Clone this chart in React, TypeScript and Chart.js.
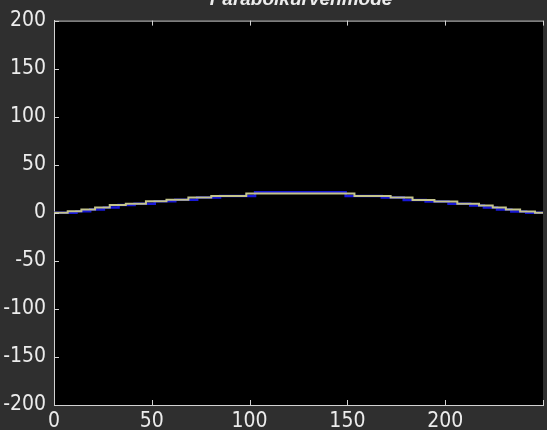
import { useEffect, useRef } from 'react';
import { Chart, registerables } from 'chart.js';

Chart.register(...registerables);

const TITLE = 'Parabolkurvenmode';
const X_MIN = 0;
const X_MAX = 250;
const X_STEP = 50;
const Y_MIN = -200;
const Y_MAX = 200;
const Y_STEP = 50;

// Yellow stepped curve (value holds from x until next x)
const yellowX = [0, 7, 14, 21, 28.5, 36.7, 47, 57.5, 68.7, 80.4, 98.3, 153.6, 172.1, 183.3, 194.5, 206.2, 217.3, 224.3, 231, 238.3, 245.9, 250];
const yellowY = [0, 1.5, 3.5, 5.5, 8, 9.5, 12, 13.5, 16, 17.5, 20, 17.5, 16, 13.3, 11.7, 9.3, 7.6, 5.5, 3.5, 1.3, 0, 0];

// Blue stepped curve
const blueX = [0, 11.5, 18.5, 25.5, 33, 41.2, 51.5, 62, 73.2, 84.9, 102.8, 149.1, 167.6, 178.8, 190, 201.7, 212.8, 219.8, 226.5, 233.8, 241.4, 250];
const blueY = [0, 1.5, 3.5, 5.5, 8, 9.5, 12, 13.5, 16, 17.5, 21.5, 17.5, 16, 13.3, 11.7, 9.3, 7.6, 5.5, 3.5, 1.3, 0, 0];

const BG = '#2f2f2f';
const AXIS = '#d2d2d2';
const TEXT = '#ececec';
const YELLOW = '#c4c48c';
const BLUE = '#1818d8';
const FONT = "'Liberation Sans Narrow', 'DejaVu Sans Condensed', 'Liberation Sans', sans-serif";

export default function App() {
  const ref = useRef<HTMLCanvasElement>(null);

  useEffect(() => {
    document.body.style.margin = '0';
    document.body.style.background = BG;
    const canvas = ref.current!;

    const framePlugin = {
      id: 'frame',
      beforeDraw(chart: any) {
        const { ctx, chartArea } = chart;
        ctx.save();
        ctx.fillStyle = '#000000';
        ctx.fillRect(chartArea.left, chartArea.top, chartArea.right - chartArea.left, chartArea.bottom - chartArea.top);
        ctx.restore();
      },
      afterDraw(chart: any) {
        const { ctx, chartArea } = chart;
        const xs = chart.scales.x;
        const ys = chart.scales.y;
        ctx.save();
        ctx.strokeStyle = AXIS;
        ctx.lineWidth = 1;
        ctx.beginPath();
        ctx.moveTo(chartArea.left, chartArea.top + 0.5);
        ctx.lineTo(chartArea.right, chartArea.top + 0.5);
        ctx.stroke();
        ctx.beginPath();
        ys.ticks.forEach((t: any) => {
          const p = Math.round(ys.getPixelForValue(t.value)) + 0.5;
          ctx.moveTo(chartArea.left, p);
          ctx.lineTo(chartArea.left + 5, p);
        });
        xs.ticks.forEach((t: any) => {
          const p = Math.round(xs.getPixelForValue(t.value)) + 0.5;
          ctx.moveTo(p, chartArea.bottom);
          ctx.lineTo(p, chartArea.bottom - 5);
          ctx.moveTo(p, chartArea.top);
          ctx.lineTo(p, chartArea.top + 5);
        });
        ctx.stroke();
        ctx.fillStyle = TEXT;
        ctx.font = "italic bold 19px 'Liberation Sans', sans-serif";
        ctx.textAlign = 'center';
        ctx.textBaseline = 'alphabetic';
        ctx.fillText(TITLE, 301, 5);
        ctx.restore();
      },
    };

    const chart = new Chart(canvas, {
      type: 'line',
      data: {
        datasets: [
          {
            label: 'Yellow',
            data: yellowX.map((x, i) => ({ x, y: yellowY[i] })),
            borderColor: YELLOW,
            borderWidth: 2,
            stepped: true,
            pointRadius: 0,
            fill: false,
          },
          {
            label: 'Blue',
            data: blueX.map((x, i) => ({ x, y: blueY[i] })),
            borderColor: BLUE,
            borderWidth: 2.5,
            stepped: true,
            pointRadius: 0,
            fill: false,
          },
        ],
      },
      options: {
        animation: false,
        responsive: false,
        devicePixelRatio: 1,
        layout: { padding: { top: 17, left: 0, right: 0, bottom: 0 } },
        plugins: {
          legend: { display: false },
          title: { display: false },
          tooltip: { enabled: false },
        },
        scales: {
          x: {
            type: 'linear',
            min: X_MIN,
            max: X_MAX,
            afterFit: (s: any) => {
              s.height = 25;
            },
            grid: { display: false, drawTicks: false },
            border: { display: true, color: AXIS, width: 1 },
            ticks: {
              stepSize: X_STEP,
              color: TEXT,
              font: { family: FONT, size: 21 },
              padding: 4,
              maxRotation: 0,
              autoSkip: false,
              callback: (v: any) => (v === X_MAX ? '' : String(v)),
            },
          },
          y: {
            type: 'linear',
            min: Y_MIN,
            max: Y_MAX,
            afterFit: (s: any) => {
              s.width = 54;
            },
            grid: { display: false, drawTicks: false },
            border: { display: true, color: AXIS, width: 1 },
            ticks: {
              stepSize: Y_STEP,
              color: TEXT,
              font: { family: FONT, size: 21 },
              padding: 8,
              autoSkip: false,
            },
          },
        },
      },
      plugins: [framePlugin],
    });

    return () => chart.destroy();
  }, []);

  return (
    <div style={{ width: 547, height: 430, background: BG, overflow: 'hidden' }}>
      <canvas ref={ref} width={547} height={430} style={{ display: 'block' }} />
    </div>
  );
}
